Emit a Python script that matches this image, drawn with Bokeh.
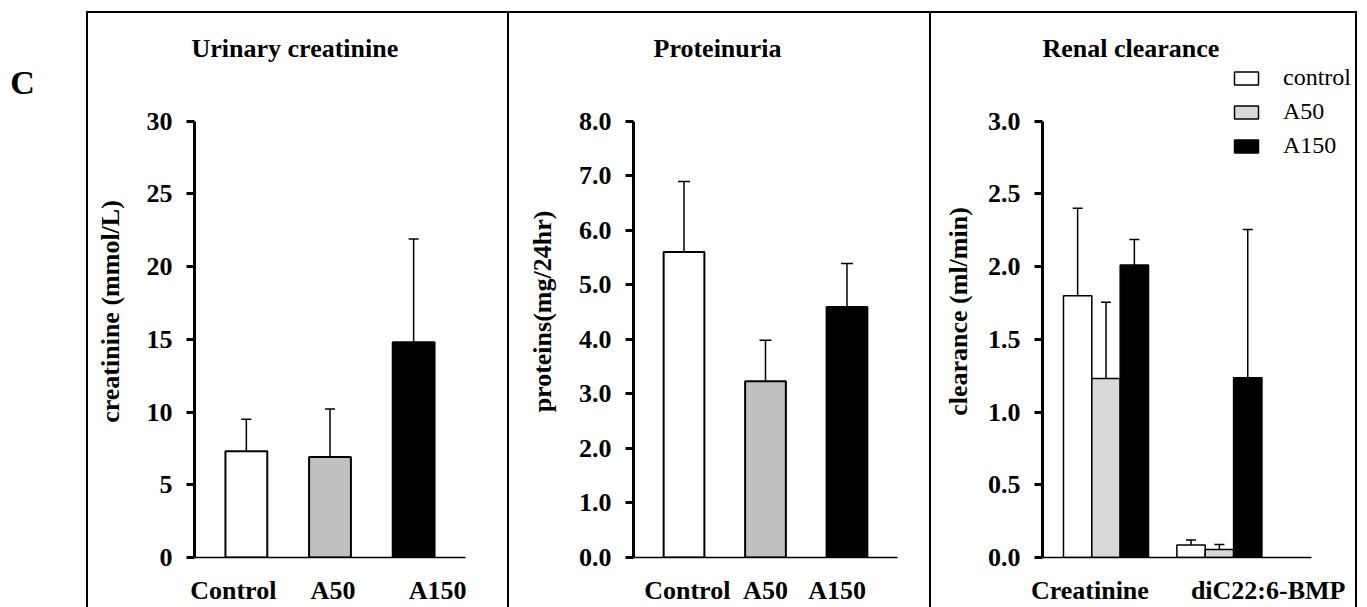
from bokeh.plotting import figure
from bokeh.models import (ColumnDataSource, Range1d, FixedTicker, Whisker, TeeHead, Label,
                          Legend, LegendItem, Spacer, PrintfTickFormatter, Div)
from bokeh.layouts import row, column
from bokeh.embed import file_html
from bokeh.resources import INLINE

FONT = "Liberation Serif"

# ---------------- data ----------------
panel_letter = "C"
panel_titles = ["Urinary creatinine", "Proteinuria", "Renal clearance"]
y_labels = ["creatinine (mmol/L)", "proteins(mg/24hr)", "clearance (ml/min)"]

groups = ["Control", "A50", "A150"]
group_colors = ["#ffffff", "#c0c0c0", "#000000"]

creatinine_mean = [7.3, 6.9, 14.8]
creatinine_sem = [2.2, 3.3, 7.1]
creatinine_ticks = [0, 5, 10, 15, 20, 25, 30]

protein_mean = [5.6, 3.23, 4.59]
protein_sem = [1.29, 0.75, 0.80]
protein_ticks = [0, 1, 2, 3, 4, 5, 6, 7, 8]

clear_categories = ["Creatinine", "diC22:6-BMP"]
clear_series = ["control", "A50", "A150"]
clear_colors = ["#ffffff", "#d9d9d9", "#000000"]
clear_control_mean = [1.80, 0.086]
clear_control_sem = [0.60, 0.034]
clear_a50_mean = [1.23, 0.055]
clear_a50_sem = [0.525, 0.035]
clear_a150_mean = [2.01, 1.235]
clear_a150_sem = [0.175, 1.02]
clear_ticks = [0, 0.5, 1.0, 1.5, 2.0, 2.5, 3.0]

# ---------------- layout constants ----------------
PANEL_H = 594
TOP_B = 52
BOT_B = 46
FRAME_H = PANEL_H - TOP_B - BOT_B   # 496 px
AXIS_H = 440                         # px used by the value axis
EXT = FRAME_H / AXIS_H


def style_axes(p, ymax, yticks, yfmt, ylabel, ylabel_standoff, xbounds):
    p.outline_line_color = None
    p.grid.visible = False
    yax = p.yaxis[0]
    yax.bounds = (0, ymax)
    yax.ticker = FixedTicker(ticks=yticks)
    yax.formatter = PrintfTickFormatter(format=yfmt)
    yax.axis_line_width = 3
    yax.axis_line_color = "black"
    yax.major_tick_line_width = 3
    yax.major_tick_out = 8
    yax.major_tick_in = 0
    yax.minor_tick_line_color = None
    yax.major_label_text_font = FONT
    yax.major_label_text_font_style = "bold"
    yax.major_label_text_font_size = "26px"
    yax.major_label_text_color = "black"
    yax.major_label_standoff = 14
    yax.axis_label = ylabel
    yax.axis_label_text_font = FONT
    yax.axis_label_text_font_style = "bold"
    yax.axis_label_text_font_size = "26px"
    yax.axis_label_text_color = "black"
    yax.axis_label_standoff = ylabel_standoff
    xax = p.xaxis[0]
    xax.bounds = xbounds
    xax.axis_line_width = 1.5
    xax.axis_line_color = "black"
    xax.major_tick_line_color = None
    xax.minor_tick_line_color = None
    xax.major_label_text_font = FONT
    xax.major_label_text_font_style = "bold"
    xax.major_label_text_font_size = "26px"
    xax.major_label_text_color = "black"
    xax.major_label_standoff = 12


def style_title(p, offset):
    t = p.title
    t.align = "left"
    t.offset = offset
    t.standoff = 5
    t.vertical_align = "bottom"
    t.text_font = FONT
    t.text_font_style = "bold"
    t.text_font_size = "26px"
    t.text_color = "black"


def simple_panel(width, left, right, ymax, means, sems, colors, label_offsets,
                 yticks, yfmt, ylabel, ylabel_standoff, title, title_offset, cap):
    p = figure(width=width, height=PANEL_H, x_range=Range1d(0.38, 3.62),
               y_range=Range1d(0, ymax * EXT), title=title,
               toolbar_location=None, output_backend="svg",
               min_border_left=left, min_border_right=right,
               min_border_top=TOP_B, min_border_bottom=BOT_B)
    xs = [i + 1 for i in range(len(means))]
    src = ColumnDataSource(dict(x=xs, top=means, color=colors,
                                upper=[m + s for m, s in zip(means, sems)]))
    p.vbar(x="x", top="top", bottom=0, width=0.5, source=src, fill_color="color",
           line_color="black", line_width=2)
    p.add_layout(Whisker(source=src, base="x", lower="top", upper="upper",
                         line_color="black", line_width=1.5,
                         upper_head=TeeHead(size=cap, line_width=1.5, line_color="black"),
                         lower_head=None))
    style_axes(p, ymax, yticks, yfmt, ylabel, ylabel_standoff, (0.38, 3.62))
    tick_pos = [x + o for x, o in zip(xs, label_offsets)]
    p.xaxis[0].ticker = FixedTicker(ticks=tick_pos)
    p.xaxis[0].major_label_overrides = {t: g for t, g in zip(tick_pos, groups)}
    style_title(p, title_offset)
    return p


p1 = simple_panel(419, 106, 42, 30, creatinine_mean, creatinine_sem, group_colors,
                  [-0.156, 0.036, 0.287], creatinine_ticks, "%d", y_labels[0], 19,
                  panel_titles[0], -3, 10)
p2 = simple_panel(420, 124, 32, 8, protein_mean, protein_sem, group_colors,
                  [0.04, 0.0, -0.12], protein_ticks, "%.1f", y_labels[1], 19,
                  panel_titles[1], 20, 12)

# ---- panel 3: grouped bars ----
P3_W, P3_L = 424, 111
px_per_unit = 113.4
x3_end = 0.44 + (P3_W - P3_L) / px_per_unit
p3 = figure(width=P3_W, height=PANEL_H, x_range=Range1d(0.44, x3_end),
            y_range=Range1d(0, 3.0 * EXT), title=panel_titles[2],
            toolbar_location=None, output_backend="svg",
            min_border_left=P3_L, min_border_right=0,
            min_border_top=TOP_B, min_border_bottom=BOT_B)
gx = [i + 1 for i in range(len(clear_categories))]
series_means = [clear_control_mean, clear_a50_mean, clear_a150_mean]
series_sems = [clear_control_sem, clear_a50_sem, clear_a150_sem]
offsets = [-0.25, 0.0, 0.25]
renderers = []
for means, sems, col, off in zip(series_means, series_sems, clear_colors, offsets):
    src = ColumnDataSource(dict(x=[g + off for g in gx], top=means,
                                upper=[m + s for m, s in zip(means, sems)]))
    r = p3.vbar(x="x", top="top", bottom=0, width=0.25, source=src, fill_color=col,
                line_color="black", line_width=1.5)
    renderers.append(r)
    p3.add_layout(Whisker(source=src, base="x", lower="top", upper="upper",
                          line_color="black", line_width=1.5,
                          upper_head=TeeHead(size=10, line_width=1.5, line_color="black"),
                          lower_head=None))
style_axes(p3, 3.0, clear_ticks, "%.1f", y_labels[2], 12, (0.44, 2.816))
clear_tick_pos = [g + o for g, o in zip(gx, [-0.142, 0.43])]
p3.xaxis[0].ticker = FixedTicker(ticks=clear_tick_pos)
p3.xaxis[0].major_label_overrides = {t: c for t, c in zip(clear_tick_pos, clear_categories)}
style_title(p3, 0)

legend = Legend(items=[LegendItem(label=s, renderers=[r]) for s, r in zip(clear_series, renderers)],
                location=(189, 398), orientation="vertical",
                glyph_width=30, glyph_height=16, label_standoff=22, spacing=7,
                padding=0, margin=0, border_line_color=None, background_fill_alpha=0,
                label_text_font=FONT, label_text_font_size="24px", label_text_color="black")
p3.add_layout(legend)

# ---- letter C ----
pc = figure(width=86, height=607, x_range=Range1d(0, 1), y_range=Range1d(0, 1),
            toolbar_location=None, output_backend="svg", min_border=0,
            x_axis_location=None, y_axis_location=None)
pc.outline_line_color = None
pc.grid.visible = False
pc.add_layout(Label(x=22, y=607 - 82, x_units="screen", y_units="screen", text=panel_letter,
                    text_align="center", text_baseline="middle", text_font=FONT,
                    text_font_style="bold", text_font_size="34px", text_color="black"))


def rule(w, h):
    return Div(text="", width=w, height=h, margin=(0, 0, 0, 0),
               styles={"background-color": "black"})


layout = row(pc, column(Spacer(width=1271, height=11), rule(1271, 2),
                        row(rule(2, PANEL_H), p1, rule(2, PANEL_H), p2,
                            rule(2, PANEL_H), p3, rule(2, PANEL_H))))

open("out.html", "w").write(file_html(layout, INLINE))
